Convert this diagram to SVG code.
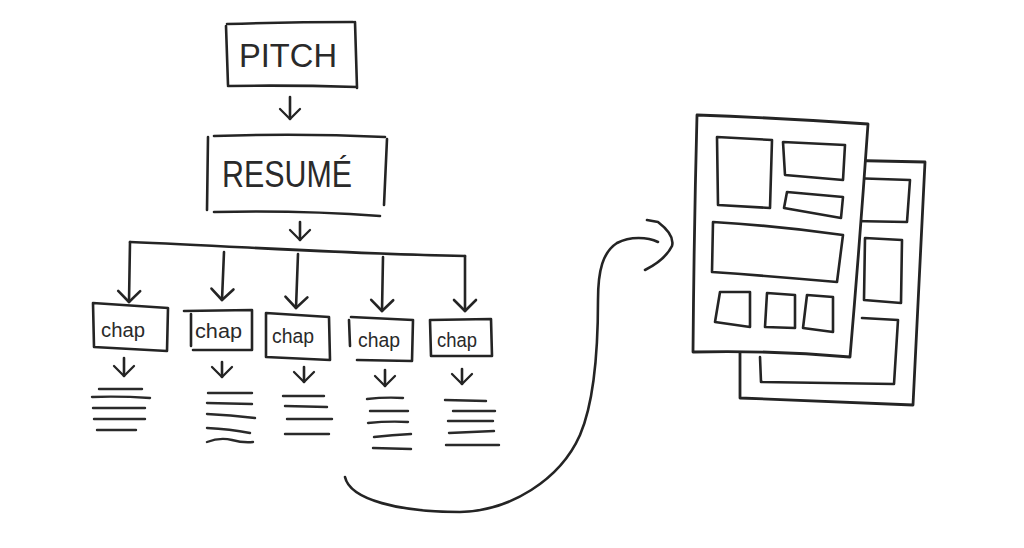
<svg xmlns="http://www.w3.org/2000/svg" width="1024" height="548" viewBox="0 0 1024 548">
<style>
.s{fill:none;stroke:#242424;stroke-width:2.6;stroke-linecap:round;stroke-linejoin:round}
.f{stroke:#242424;stroke-width:2.8;stroke-linecap:round;stroke-linejoin:round;fill:#fff}
.ln{fill:none;stroke:#2a2a2a;stroke-width:2.4;stroke-linecap:round}
.t{font-family:"Liberation Sans",Arial,sans-serif;fill:#2a2a2a}
.big{font-size:33px}
.ch{font-size:20px}
</style>
<defs>
<marker id="v" viewBox="-14 -14 16 28" markerWidth="16" markerHeight="28" refX="0" refY="0" orient="auto" markerUnits="userSpaceOnUse" overflow="visible">
<path d="M-11,-11 L0,0 L-11,11" fill="none" stroke="#242424" stroke-width="2.6" stroke-linecap="round" stroke-linejoin="round"/>
</marker>
<marker id="vs" viewBox="-14 -14 16 28" markerWidth="16" markerHeight="28" refX="0" refY="0" orient="auto" markerUnits="userSpaceOnUse" overflow="visible">
<path d="M-10,-10 L0,0 L-10,10" fill="none" stroke="#242424" stroke-width="2.3" stroke-linecap="round" stroke-linejoin="round"/>
</marker>
</defs>
<rect width="1024" height="548" fill="#fff"/>

<g id="pitch">
<path class="s" d="M227,24 Q290,22 353,22 M355,22 L357,88 M357,87 Q290,85 228,86 M226,26 L228,85"/>
<text class="t big" x="239" y="67" textLength="98" lengthAdjust="spacingAndGlyphs">PITCH</text>
</g>

<g id="resume">
<path class="s" d="M214,136 Q300,133 385,137 M208,137 L207,210 M387,139 L384,205 M214,212 Q300,210 380,216"/>
<text class="t" x="222" y="187" font-size="37" textLength="130" lengthAdjust="spacingAndGlyphs">RESUMÉ</text>
</g>

<g id="chap1">
<path class="s" d="M93,303 L168,308 L167,351 L94,347 Z"/>
<text class="t ch" x="101" y="337" textLength="44" lengthAdjust="spacingAndGlyphs">chap</text>
</g>
<g id="chap2">
<path class="s" d="M184,311 L252,310 L252,350 L193,350 M191,314 L191,346"/>
<text class="t ch" x="195" y="338" textLength="47" lengthAdjust="spacingAndGlyphs">chap</text>
</g>
<g id="chap3">
<path class="s" d="M266,313 L329,317 L330,360 L266,357 Z"/>
<text class="t ch" x="272" y="343" textLength="42" lengthAdjust="spacingAndGlyphs">chap</text>
</g>
<g id="chap4">
<path class="s" d="M351,317 L413,320 L412,361 L357,360 M349,320 L350,346"/>
<text class="t ch" x="358" y="347" textLength="42" lengthAdjust="spacingAndGlyphs">chap</text>
</g>
<g id="chap5">
<path class="s" d="M430,320 L491,319 L492,356 L431,356 Z"/>
<text class="t ch" x="437" y="347" textLength="40" lengthAdjust="spacingAndGlyphs">chap</text>
</g>

<g id="text1">
<path class="ln" d="M99,389 L142,389 M92,397 Q120,396 150,398 M93,408 L145,408 M94,419 L145,419 M97,430 L136,430"/>
</g>
<g id="text2">
<path class="ln" d="M208,393 L252,393 M207,403 L252,404 M207,414 Q230,415 255,418 M207,428 Q230,429 250,433 M207,442 Q220,437 232,440 Q243,443 253,442"/>
</g>
<g id="text3">
<path class="ln" d="M283,396 L324,396 M285,406 L327,407 M287,419 L332,419 M285,434 L329,434"/>
</g>
<g id="text4">
<path class="ln" d="M367,399 Q385,397 403,398 M370,411 L408,411 M368,423 Q388,421 408,422 M374,437 Q392,435 411,434 M373,448 L411,449"/>
</g>
<g id="text5">
<path class="ln" d="M445,400 L486,401 M453,411 L495,411 M448,421 L493,421 M449,433 L494,431 M446,445 L499,445"/>
</g>

<g id="document">
<path class="f" d="M740,158 L925,162 L913,405 L740,398 Z"/>
<path class="s" d="M850,178 L910,180 L907,222 L852,221"/>
<path class="s" d="M865,238 L902,240 L901,303 L864,300 Z"/>
<path class="s" d="M760,357 L761,382 L894,384 L898,320 L862,318"/>
<path class="f" d="M697,115 Q780,118 868,124 Q860,240 850,357 Q770,350 693,352 Q694,230 697,115 Z"/>
<path class="s" d="M717,137 L772,140 L770,208 L718,205 Z"/>
<path class="s" d="M783,142 L845,145 L843,180 L785,175 Z"/>
<path class="s" d="M787,192 L843,197 L841,218 L784,208 Z"/>
<path class="s" d="M713,222 Q780,226 843,235 L837,282 Q770,276 712,272 Z"/>
<path class="s" d="M720,292 L750,292 L750,327 L715,322 Z"/>
<path class="s" d="M767,293 L795,295 L795,328 L765,327 Z"/>
<path class="s" d="M807,295 L833,297 L833,332 L803,328 Z"/>
</g>

<g id="connectors">
<path class="s" d="M290,97 L290,119" marker-end="url(#vs)"/>
<path class="s" d="M300,222 L300,240" marker-end="url(#vs)"/>
<path class="s" d="M130,242 C250,247 350,254 465,256"/>
<path class="s" d="M130,242 L129,302" marker-end="url(#v)"/>
<path class="s" d="M224,252 L222,300" marker-end="url(#v)"/>
<path class="s" d="M298,254 L296,308" marker-end="url(#v)"/>
<path class="s" d="M383,257 L382,311" marker-end="url(#v)"/>
<path class="s" d="M465,256 L465,311" marker-end="url(#v)"/>
<path class="s" d="M124,358 L124,376" marker-end="url(#vs)"/>
<path class="s" d="M222,362 L222,377" marker-end="url(#vs)"/>
<path class="s" d="M304,367 L304,382" marker-end="url(#vs)"/>
<path class="s" d="M385,370 L385,386" marker-end="url(#vs)"/>
<path class="s" d="M462,369 L462,384" marker-end="url(#vs)"/>
<path class="s" d="M345,477 C350,500 400,512 460,512 C510,511 560,480 580,435 C595,400 598,340 598,300 C598,270 603,252 617,243 C630,236 648,237 658,242"/>
<path class="s" d="M647,220 L658,222 Q675,235 672,246 Q665,260 645,270"/>
</g>
</svg>
